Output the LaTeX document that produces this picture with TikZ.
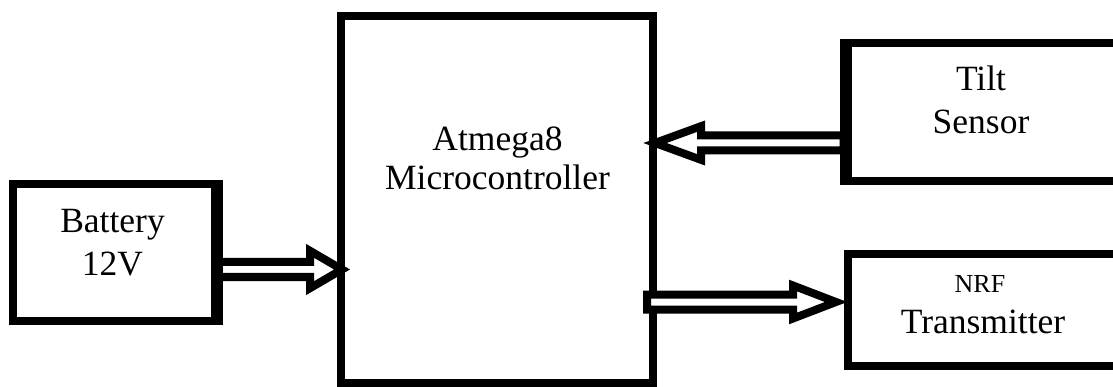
\documentclass[tikz,border=0pt]{standalone}
\usepackage{fontspec}
\setmainfont{Liberation Serif}
\usetikzlibrary{calc}
\tikzset{
  blk/.style={draw=black, line width=8pt, rectangle, inner sep=0pt, fill=white},
  lbl/.style={font=\fontsize{35.5}{40}\selectfont, anchor=base, inner sep=0pt},
  lblsmall/.style={font=\fontsize{26}{30}\selectfont, anchor=base, inner sep=0pt},
  barrow/.style={draw=black, line width=8pt, line join=miter, fill=white},
}
% #1 start coordinate, #2 tip coordinate, #3 signed head length, #4 head half-width
\newcommand\blockarrow[4]{%
  \draw[barrow] let \p1=(#1), \p2=(#2) in
    (\x1,\y1+7.5pt) -- (\x2-#3pt,\y1+7.5pt) -- (\x2-#3pt,\y1+#4pt) -- (\x2,\y1)
    -- (\x2-#3pt,\y1-#4pt) -- (\x2-#3pt,\y1-7.5pt) -- (\x1,\y1-7.5pt) -- cycle;}
\begin{document}
\begin{tikzpicture}[x=1pt,y=-1pt]
\useasboundingbox (0,0) rectangle (1113,387);
% boxes
\node[blk, minimum width=202pt, minimum height=136pt] (bat) at (113.5,252.5) {};
\node[blk, minimum width=312pt, minimum height=367pt] (mcu) at (497,199.5) {};
\node[blk, minimum width=274.5pt, minimum height=137.5pt] (tilt) at (984.75,112.25) {};
\node[blk, minimum width=274.5pt, minimum height=112pt] (nrf) at (984.75,310) {};
% connector anchor points
\coordinate (a1s) at (bat.east |- 0,269.5);
\coordinate (a1e) at (342,269.5);
\coordinate (a2s) at (tilt.west |- 0,143);
\coordinate (a2e) at (655,143);
\coordinate (a3s) at (647,302);
\coordinate (a3e) at (836,302);
% block arrows
\blockarrow{a1s}{a1e}{32}{18.7}
\blockarrow{a2s}{a2e}{-46}{16.8}
\blockarrow{a3s}{a3e}{43}{16.5}
% redraw box borders over arrow ends
\draw[line width=8pt] (bat.north east) -- (bat.south east);
\draw[line width=8pt] (tilt.north west) -- (tilt.south west);
% labels
\node[lbl] (batA) at (112.5,233) {Battery};
\node[lbl] (batB) at (112.5,276) {12V};
\node[lbl] (mcuA) at (497.5,151) {Atmega8};
\node[lbl] (mcuB) at (497.5,190) {Microcontroller};
\node[lbl] (tiltA) at (981,91) {Tilt};
\node[lbl] (tiltB) at (981,134) {Sensor};
\node[lblsmall] (nrfA) at (980,292.5) {NRF};
\node[lbl] (nrfB) at (983,333.3) {Transmitter};
\end{tikzpicture}
\end{document}
